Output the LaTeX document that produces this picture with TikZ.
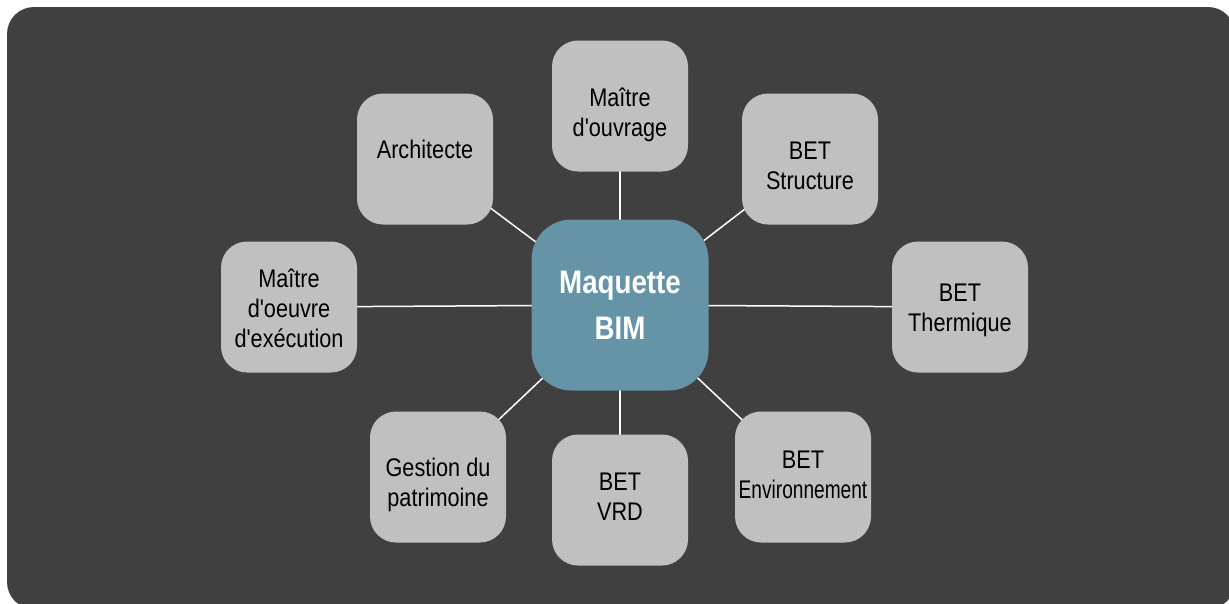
\documentclass[tikz,border=0pt]{standalone}
\usepackage{fontspec}
\setmainfont{Liberation Sans}
\newfontfamily\acteurfont{Liberation Sans}[FakeStretch=0.85]
\newfontfamily\serrefont{Liberation Sans}[FakeStretch=0.75]
\usetikzlibrary{backgrounds}

\definecolor{fond}{RGB}{64,64,64}
\definecolor{gris}{RGB}{192,192,192}
\definecolor{bleu}{RGB}{101,148,167}

% texte d'un acteur, decale verticalement
\newcommand\bloc[2]{\raisebox{#1}[0pt][0pt]{\begin{tabular}{@{}c@{}}#2\end{tabular}}}

\tikzset{
  acteur/.style={fill=gris, rounded corners=26pt, minimum width=136pt, minimum height=131pt,
    inner sep=0pt, align=center, text=black, font=\acteurfont\fontsize{25.5}{30.2}\selectfont},
  maquette/.style={fill=bleu, rounded corners=40pt, minimum width=177pt, minimum height=171pt,
    inner sep=0pt, align=center, text=white, font=\acteurfont\bfseries\fontsize{32.6}{45.6}\selectfont},
  lien/.style={draw=white, line width=1.5pt}
}

\begin{document}
\begin{tikzpicture}[x=1pt, y=-1pt]
    \useasboundingbox (0,0) rectangle (1229,603);
    % maquette centrale
    \node[maquette] (BIM) at (620,305) {Maquette\\BIM};
    % acteurs autour
    \node[acteur] (MOuv)   at (620,106) {\bloc{-15.6pt}{Maître\\d'ouvrage}};
    \node[acteur] (Arch)   at (425,159) {\bloc{0.6pt}{Architecte}};
    \node[acteur] (Struct) at (810,159) {\bloc{-15.3pt}{BET\\Structure}};
    \node[acteur] (MOE)    at (289,307) {\bloc{-10.6pt}{Maître\\d'oeuvre\\d'exécution}};
    \node[acteur] (Therm)  at (960,307) {\bloc{-9.6pt}{BET\\Thermique}};
    \node[acteur] (Patri)  at (438,477) {\bloc{-14.3pt}{Gestion du\\patrimoine}};
    \node[acteur] (VRD)    at (620,500) {\bloc{-5.6pt}{BET\\VRD}};
    \node[acteur] (Env)    at (803,477) {\bloc{-7pt}{BET\\{\serrefont Environnement}}};
    \begin{scope}[on background layer]
      \fill[white] (0,0) rectangle (1229,603);
      \fill[fond, rounded corners=27pt] (7,7) rectangle (1235,609);
      \foreach \n in {MOuv, Arch, Struct, MOE, Therm, Patri, VRD, Env}
        \draw[lien] (BIM.center) -- (\n.center);
    \end{scope}
\end{tikzpicture}
\end{document}
